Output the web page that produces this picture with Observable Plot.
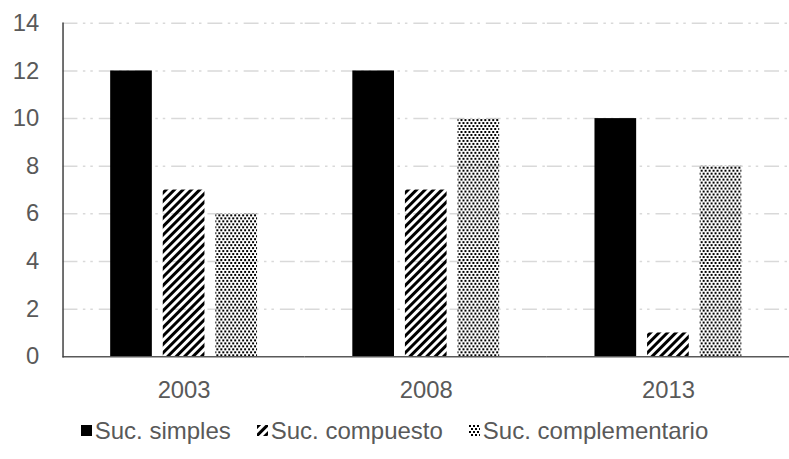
<!DOCTYPE html>
<html>
<head>
<meta charset="utf-8">
<script src="https://cdn.jsdelivr.net/npm/d3@7"></script>
<script src="https://cdn.jsdelivr.net/npm/@observablehq/plot@0.6"></script>
<style>
  html, body { margin: 0; padding: 0; background: #fff; }
  #wrap { width: 789px; height: 459px; overflow: hidden; position: relative; font-family: "Liberation Sans", Arial, sans-serif; }
  #chart svg { display: block; }
  #legend { display: flex; justify-content: center; align-items: center; gap: 26px; font-size: 24px; color: #595959; height: 38px; }
  #legend .item { display: flex; align-items: center; gap: 3px; }
  #legend svg { display: block; }
</style>
</head>
<body>
<!-- shared fill patterns for bars and legend swatches -->
<svg width="0" height="0" style="position:absolute">
  <defs>
    <pattern id="hatch" patternUnits="userSpaceOnUse" width="6" height="6" patternTransform="rotate(45)">
      <rect x="0" y="0" width="3" height="6" fill="#000"></rect>
    </pattern>
    <pattern id="dots" patternUnits="userSpaceOnUse" width="4" height="6">
      <rect x="0" y="0" width="2" height="2" fill="#000"></rect>
      <rect x="2" y="3" width="2" height="2" fill="#000"></rect>
    </pattern>
  </defs>
</svg>
<div id="wrap">
  <div id="chart"></div>
  <div id="legend"></div>
</div>
<script>
const years = ["2003", "2008", "2013"];
const series = ["Suc. simples", "Suc. compuesto", "Suc. complementario"];
const simples = [12, 12, 10];
const compuesto = [7, 7, 1];
const complementario = [6, 10, 8];
const yTicks = [0, 2, 4, 6, 8, 10, 12, 14];
const fills = ["#000", "url(#hatch)", "url(#dots)"];

const values = [simples, compuesto, complementario];
const rows = [];
years.forEach((year, i) => {
  series.forEach((s, j) => rows.push({year, series: s, value: values[j][i]}));
});

const chart = Plot.plot({
  width: 795,
  height: 415,
  marginLeft: 63,
  marginRight: 0,
  marginTop: 23,
  marginBottom: 56,
  style: {fontFamily: "Liberation Sans, Arial, sans-serif", fontSize: "24px", color: "#595959", background: "#fff"},
  fx: {domain: years, padding: 0, label: null},
  x: {domain: series, paddingInner: 0.2, paddingOuter: 0.86, axis: null},
  y: {domain: [0, 14], label: null},
  color: {domain: series, range: fills},
  marks: [
    Plot.ruleY(yTicks.filter(t => t > 0), {stroke: "#d9d9d9", strokeWidth: 1.5, strokeDasharray: "15,5.5,2.5,5,2.5,6"}),
    Plot.barY(rows, {fx: "year", x: "series", y: "value", fill: "series"}),
    Plot.ruleY([0], {stroke: "#595959", strokeWidth: 1.5}),
    Plot.frame({anchor: "left", facetAnchor: "left", stroke: "#404040", strokeWidth: 1.5}),
    Plot.axisY({ticks: yTicks, tickSize: 0, tickPadding: 24, label: null, fill: "#595959", fontSize: 24}),
    Plot.axisFx({anchor: "bottom", tickSize: 0, tickPadding: 24, label: null, fill: "#595959", fontSize: 24})
  ]
});
document.getElementById("chart").appendChild(chart);

// legend below the chart
const legend = d3.select("#legend");
series.forEach((s, j) => {
  const item = legend.append("div").attr("class", "item");
  const sw = item.append("svg").attr("width", 11).attr("height", 11);
  sw.append("rect").attr("width", 11).attr("height", 11).attr("fill", fills[j]);
  item.append("span").text(s);
});
</script>
</body>
</html>
